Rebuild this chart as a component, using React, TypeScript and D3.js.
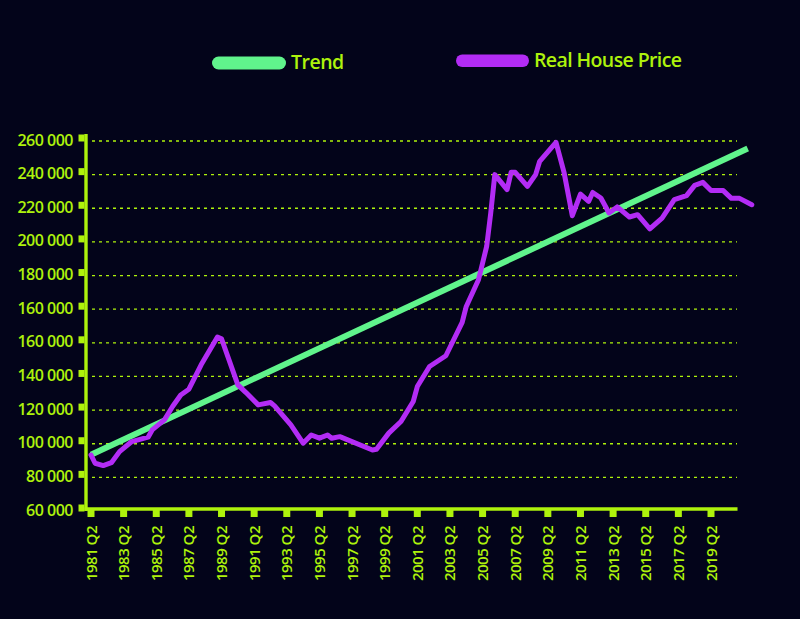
import React from 'react'
import * as d3 from 'd3'

const priceQuarters = [
    '1981 Q2', '1981 Q3', '1982 Q1', '1982 Q3', '1983 Q1', '1983 Q4', '1984 Q4',
    '1985 Q1', '1985 Q4', '1986 Q2', '1986 Q4', '1987 Q2', '1988 Q1', '1989 Q1',
    '1989 Q2', '1990 Q2', '1990 Q4', '1991 Q3', '1992 Q2', '1992 Q3', '1993 Q3',
    '1994 Q2', '1994 Q4', '1995 Q2', '1995 Q4', '1996 Q1', '1996 Q3', '1998 Q3',
    '1998 Q4', '1999 Q3', '2000 Q2', '2001 Q1', '2001 Q2', '2002 Q1', '2003 Q1',
    '2004 Q1', '2004 Q2', '2005 Q1', '2005 Q3', '2005 Q4', '2006 Q1', '2006 Q4',
    '2007 Q1', '2007 Q2', '2008 Q1', '2008 Q3', '2008 Q4', '2009 Q4', '2010 Q2',
    '2010 Q4', '2011 Q2', '2011 Q4', '2012 Q1', '2012 Q3', '2013 Q1', '2013 Q3',
    '2014 Q2', '2014 Q4', '2015 Q3', '2016 Q2', '2017 Q1', '2017 Q4', '2018 Q2',
    '2018 Q4', '2019 Q2', '2020 Q1', '2020 Q3', '2021 Q1', '2021 Q4'
]
const priceValues = [
    93300, 88400, 87000, 88700, 95300, 101300, 103900,
    108200, 114200, 122100, 129000, 132400, 146900, 163400,
    162400, 135000, 130400, 123100, 124500, 122500, 111200,
    100300, 105200, 103300, 105200, 103300, 104200, 96300,
    96700, 106300, 113200, 125100, 134000, 145900, 152300,
    172100, 181600, 197500, 217300, 237200, 260000, 251100,
    261400, 261400, 253000, 260000, 267900, 279200, 261000,
    235600, 248400, 244100, 249400, 246100, 237200, 240800,
    234800, 236200, 227700, 234200, 245100, 247500, 253600,
    255400, 250500, 250500, 245900, 245900, 242100
]

// trend line end points
const trendQuarters = ['1981 Q2', '2021 Q3']
const trendValues = [93500, 275500]

const xTickLabels = [
    '1981 Q2', '1983 Q2', '1985 Q2', '1987 Q2', '1989 Q2', '1991 Q2', '1993 Q2',
    '1995 Q2', '1997 Q2', '1999 Q2', '2001 Q2', '2003 Q2', '2005 Q2', '2007 Q2',
    '2009 Q2', '2011 Q2', '2013 Q2', '2015 Q2', '2017 Q2', '2019 Q2'
]
const yTickValues = [
    60000, 80000, 100000, 120000, 140000, 160000, 180000, 200000, 220000, 240000,
    260000, 280000
]
// labels exactly as printed on the chart (160 000 appears twice)
const yTickLabels = [
    '60 000', '80 000', '100 000', '120 000', '140 000', '160 000', '160 000',
    '180 000', '200 000', '220 000', '240 000', '260 000'
]

const BG = '#03041a'
const LIME = '#aef20c'
const GREEN = '#60f48c'
const PURPLE = '#b32cf5'
const FONT = "'Open Sans', sans-serif"

const quarterIndex = (label: string) => {
    const [y, q] = label.split(' Q')
    return (+y - 1981) * 4 + (+q - 2)
}

const App: React.FC = () => {
    const width = 800
    const height = 619

    const x = d3.scaleLinear().domain([0, 152]).range([91, 711])
    const y = d3.scaleLinear().domain([60000, 280000]).range([511, 141])

    const priceData = priceQuarters.map((q, i) => ({ q: quarterIndex(q), v: priceValues[i] }))
    const trendData = trendQuarters.map((q, i) => ({ q: quarterIndex(q), v: trendValues[i] }))

    const line = d3
        .line<{ q: number; v: number }>()
        .x((d) => x(d.q))
        .y((d) => y(d.v))

    const axisY = 86
    const axisEnd = x(158.5)

    return (
        <div style={{ position: 'fixed', left: 0, top: 0, width, height, background: BG }}>
            <svg width={width} height={height} viewBox={`0 0 ${width} ${height}`} style={{ display: 'block' }}>
                <rect width={width} height={height} fill={BG} />

                {/* legend */}
                <rect x={212} y={56.5} width={74} height={13} rx={6.5} fill={GREEN} />
                <text x={291} y={69} fill={LIME} fontFamily={FONT} fontWeight={600} fontSize={19.5} letterSpacing={-0.5}>
                    Trend
                </text>
                <rect x={456} y={54.5} width={73} height={12.5} rx={6.2} fill={PURPLE} />
                <text x={534} y={67} fill={LIME} fontFamily={FONT} fontWeight={600} fontSize={19.5} letterSpacing={-0.6}>
                    Real House Price
                </text>

                {/* grid */}
                <g>
                    {yTickValues.slice(1).map((v) => (
                        <line
                            key={v}
                            x1={92}
                            x2={737}
                            y1={y(v)}
                            y2={y(v)}
                            stroke={LIME}
                            strokeWidth={1.3}
                            strokeDasharray='3,4'
                        />
                    ))}
                </g>

                {/* y axis */}
                <g>
                    <line x1={axisY} x2={axisY} y1={134} y2={511} stroke={LIME} strokeWidth={3.4} />
                    {yTickValues.map((v, i) => (
                        <g key={v}>
                            <rect x={78.5} y={y(v) - 6.5} width={6} height={7} fill={LIME} />
                            <text
                                x={73}
                                y={y(v) + 4.5}
                                textAnchor='end'
                                fill={LIME}
                                fontFamily={FONT}
                                fontWeight={600}
                                fontSize={16}
                                letterSpacing={-0.5}
                            >
                                {yTickLabels[i]}
                            </text>
                        </g>
                    ))}
                </g>

                {/* x axis */}
                <g>
                    <line x1={84.5} x2={axisEnd} y1={509} y2={509} stroke={LIME} strokeWidth={3.6} />
                    {xTickLabels.map((t) => {
                        const cx = x(quarterIndex(t))
                        return (
                            <g key={t}>
                                <rect x={cx - 3.5} y={510} width={7} height={7} fill={LIME} />
                                <text
                                    transform={`translate(${cx + 5.5}, 526) rotate(-90)`}
                                    textAnchor='end'
                                    fill={LIME}
                                    fontFamily={FONT}
                                    fontWeight={600}
                                    fontSize={15}
                                    letterSpacing={-0.5}
                                >
                                    {t}
                                </text>
                            </g>
                        )
                    })}
                </g>

                {/* series */}
                <path d={line(trendData) ?? ''} fill='none' stroke={GREEN} strokeWidth={6} />
                <path
                    d={line(priceData) ?? ''}
                    fill='none'
                    stroke={PURPLE}
                    strokeWidth={5}
                    strokeLinejoin='round'
                    strokeLinecap='round'
                />
            </svg>
        </div>
    )
}

export default App
